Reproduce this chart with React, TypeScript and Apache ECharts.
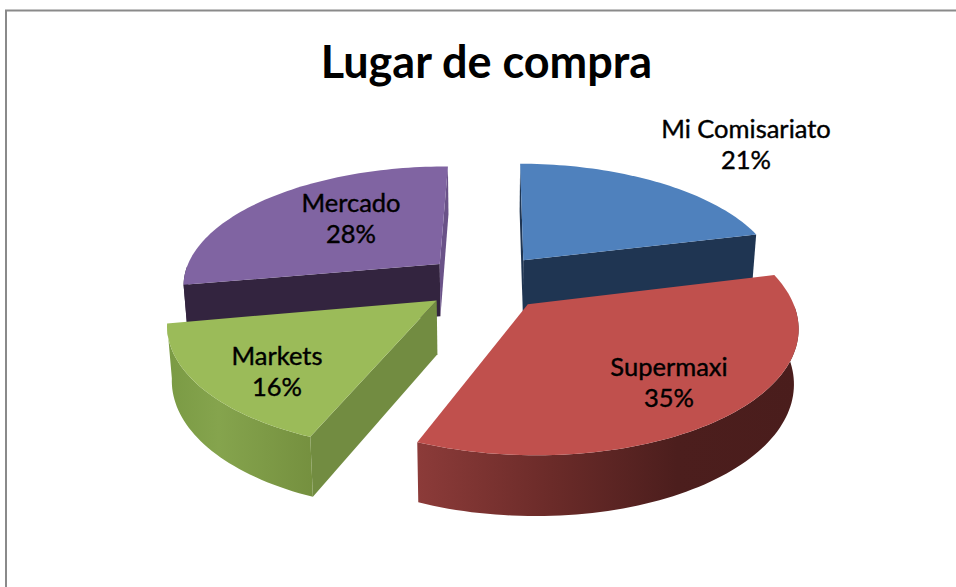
import React, { useEffect, useRef } from "react";
import * as echarts from "echarts";

const titleText = "Lugar de compra";
const categories = ["Mi Comisariato", "Supermaxi", "Markets", "Mercado"];
const shares = [21, 35, 16, 28];

const topColors = ["#4f81bd", "#c0504d", "#9bbb59", "#8064a2"];
const startFaceColors = ["#1f3552", "#6b2b29", "#728c41", "#33243f"];
const endFaceColors = ["#1f3552", "#6b2b29", "#5f7535", "#6a5288"];
const wallStops: [number, string][][] = [
  [[0, "#1f3552"], [1, "#1f3552"]],
  [[0, "#8c3b39"], [0.35, "#6b2b29"], [0.68, "#4c1e1d"], [1, "#4a1d1c"]],
  [[0, "#7a9a44"], [0.35, "#85a44d"], [1, "#75903f"]],
  [[0, "#33243f"], [1, "#33243f"]],
];
const labelAnchors = [
  [746, 143],
  [669, 381],
  [277, 370],
  [351, 217],
];

// Projection of the exploded 3D pie
const CX = 486;
const CY = 282;
const RADIUS = 258;
const EXPLODE = 62;
const TILT = 0.46;
const CAMERA = 1600;
const THICK = 53;
const THICK_PERSPECTIVE = 0.65;
const BASE_SHRINK = 0.985;
const ROTATION = 0.5;

const total = shares.reduce((a, b) => a + b, 0);
const rad = (d: number) => (d * Math.PI) / 180;
const sliceAngles = (() => {
  let acc = 0;
  return shares.map((v) => {
    const start = (acc / total) * 360 + ROTATION;
    acc += v;
    return [start, (acc / total) * 360 + ROTATION];
  });
})();

function project(wx: number, wz: number, bottom: boolean): number[] {
  const s = CAMERA / (CAMERA - wz);
  if (bottom) {
    return [
      CX + wx * s * BASE_SHRINK,
      CY + TILT * wz * s + THICK * Math.pow(s, THICK_PERSPECTIVE),
    ];
  }
  return [CX + wx * s, CY + TILT * wz * s];
}

function sliceGeometry(i: number) {
  const [a0, a1] = sliceAngles[i];
  const mid = rad((a0 + a1) / 2);
  const ox = EXPLODE * Math.sin(mid);
  const oz = -EXPLODE * Math.cos(mid);
  const steps = Math.ceil((a1 - a0) / 1.5);
  const thetas: number[] = [];
  for (let k = 0; k <= steps; k++) thetas.push(rad(a0 + ((a1 - a0) * k) / steps));
  const rim = (list: number[], bottom: boolean) =>
    list.map((t) => project(ox + RADIUS * Math.sin(t), oz - RADIUS * Math.cos(t), bottom));
  // only the part of the round wall that faces the viewer
  const front = thetas.filter((t) => Math.cos(t) < 0);
  return {
    apexTop: project(ox, oz, false),
    apexBottom: project(ox, oz, true),
    rimTop: rim(thetas, false),
    rimBottom: rim(thetas, true),
    wallTop: rim(front, false),
    wallBottom: rim(front, true),
  };
}

const drawOrder = shares
  .map((_, i) => i)
  .sort((a, b) => {
    const m = (i: number) => rad((sliceAngles[i][0] + sliceAngles[i][1]) / 2);
    return -Math.cos(m(a)) - -Math.cos(m(b));
  });

function renderSlice(_params: any, api: any) {
  const i = api.value(0) as number;
  const g = sliceGeometry(i);
  const n = g.rimTop.length - 1;
  const stops = wallStops[i].map(([offset, color]) => ({ offset, color }));
  const poly = (points: number[][], fill: any) => ({
    type: "polygon",
    shape: { points },
    style: { fill, stroke: null },
  });
  const children: any[] = [];
  if (g.rimTop[0][0] < g.apexTop[0]) {
    children.push(poly([g.apexTop, g.rimTop[0], g.rimBottom[0], g.apexBottom], startFaceColors[i]));
  }
  if (g.rimTop[n][0] > g.apexTop[0]) {
    children.push(poly([g.apexTop, g.rimTop[n], g.rimBottom[n], g.apexBottom], endFaceColors[i]));
  }
  if (g.wallTop.length > 1) {
    children.push(
      poly([...g.wallTop, ...[...g.wallBottom].reverse()], {
        type: "linear", x: 0, y: 0, x2: 1, y2: 0, colorStops: stops,
      })
    );
  }
  children.push(poly([g.apexTop, ...g.rimTop], topColors[i]));
  children.push({
    type: "text",
    z2: 10,
    style: {
      text: `${categories[i]}\n${shares[i]}%`,
      x: labelAnchors[i][0],
      y: labelAnchors[i][1],
      align: "center",
      verticalAlign: "middle",
      fontFamily: "Lato",
      fontSize: 25.5,
      lineHeight: 31,
      fill: "#000000",
      stroke: "#000000",
      lineWidth: 0.4,
    },
  });
  return { type: "group", children };
}

export default function App() {
  const ref = useRef<HTMLDivElement>(null);
  useEffect(() => {
    const chart = echarts.init(ref.current!, null, { renderer: "svg" });
    chart.setOption({
      animation: false,
      backgroundColor: "#ffffff",
      title: {
        text: titleText,
        left: 481.5,
        top: 33,
        textAlign: "center",
        textStyle: { fontFamily: "Lato", fontWeight: "bold", fontSize: 45, color: "#000000" },
      },
      graphic: [
        {
          type: "polyline",
          shape: { points: [[6, 587], [6, 10.5], [956, 10.5]] },
          style: { stroke: "#8a8a8a", lineWidth: 2, fill: null },
        },
      ],
      series: [
        {
          type: "custom",
          coordinateSystem: "none",
          renderItem: renderSlice,
          data: drawOrder.map((i) => [i]),
        },
      ],
    });
    return () => chart.dispose();
  }, []);
  return <div ref={ref} style={{ position: "fixed", left: 0, top: 0, width: 956, height: 587 }} />;
}
